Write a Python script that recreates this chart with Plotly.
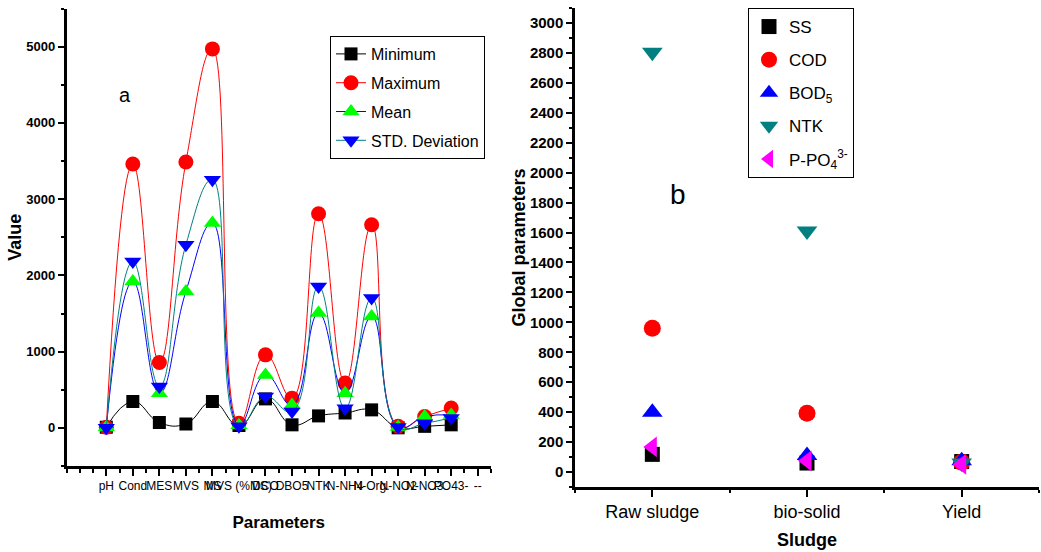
import plotly.graph_objects as go

# ---------------- data: panel a ----------------
param_labels = ["pH", "Cond", "MES", "MVS", "MS", "MVS (%MS)", "DCO", "DBO5",
                "NTK", "N-NH4", "N-Org.", "N-NO2", "N-NO3", "PO43-", "--"]
param_pos = list(range(1, 16))
data_pos = list(range(1, 15))

minimum = [7, 345, 70, 52, 345, 30, 380, 40, 157, 195, 236, 1, 20, 40]
maximum = [8, 3460, 857, 3487, 4970, 60, 958, 390, 2808, 587, 2664, 20, 150, 260]
mean = [7.5, 1920, 455, 1789, 2686, 35, 695, 300, 1505, 455, 1461, 10, 148, 170]
std_dev = [0.5, 2182, 542, 2402, 3255, 20, 411, 214, 1855, 258, 1702, 10, 60, 130]

# ---------------- data: panel b ----------------
sludge = ["Raw sludge", "bio-solid", "Yield"]
sludge_pos = [0, 1, 2]
ss = [118, 60, 70]
cod = [960, 392, 65]
bod5 = [400, 110, 75]
ntk = [2805, 1610, 60]
ppo4 = [168, 75, 52]

REG = "Liberation Sans, Arial, sans-serif"

fig = go.Figure()

# panel a traces
series_a = [
    ("Minimum", minimum, "square", "black", "black", 13),
    ("Maximum", maximum, "circle", "red", "red", 15),
    ("Mean", mean, "triangle-up", "#00ff00", "blue", 15),
    ("STD. Deviation", std_dev, "triangle-down", "blue", "#008080", 15),
]
for name, vals, sym, mcol, lcol, size in series_a:
    fig.add_trace(go.Scatter(
        x=data_pos, y=vals, name=name, mode="lines+markers",
        line=dict(color=lcol, width=1, shape="spline", smoothing=1.3),
        marker=dict(symbol=sym, color=mcol, size=size, line=dict(width=0)),
        xaxis="x", yaxis="y", legend="legend", legendgroup=name,
    ))

# panel b traces
series_b = [
    ("SS", ss, "square", "black", 15),
    ("COD", cod, "circle", "red", 17),
    ("BOD<sub>5</sub>", bod5, "triangle-up", "blue", 18),
    ("NTK", ntk, "triangle-down", "#008080", 18),
    ("P-PO<sub>4</sub><sup>3-</sup>", ppo4, "triangle-left", "#ff00ff", 18),
]
for name, vals, sym, col, size in series_b:
    fig.add_trace(go.Scatter(
        x=sludge_pos, y=vals, name=name, mode="markers",
        marker=dict(symbol=sym, color=col, size=size, line=dict(width=0)),
        xaxis="x2", yaxis="y2", legend="legend2", legendgroup=name,
    ))

dom_xa = [66.5 / 1041, 491 / 1041]
dom_ya = [(552 - 466) / 552, (552 - 8.5) / 552]
dom_xb = [575 / 1041, 1039 / 1041]
dom_yb = [(552 - 487) / 552, (552 - 8) / 552]

common = dict(showgrid=False, zeroline=False, linecolor="black", tickcolor="black",
              automargin=False)

fig.update_layout(
    width=1041, height=552, autosize=False,
    margin=dict(l=0, r=0, t=0, b=0, autoexpand=False),
    paper_bgcolor="white", plot_bgcolor="white",
    font=dict(family=REG, color="black"),
    xaxis=dict(
        domain=dom_xa, anchor="y", range=[-0.5, 15.5],
        tickmode="array", tickvals=param_pos, ticktext=param_labels, tickangle=0,
        ticks="outside", ticklen=7, tickwidth=1.5,
        showline=True, linewidth=2.5,
        tickfont=dict(family=REG, size=12),
        minor=dict(tick0=0, dtick=0.5, ticks="outside", ticklen=4, tickwidth=1.5, tickcolor="black"),
        title=dict(text="Parameters", font=dict(family=REG, size=17, weight="bold"), standoff=24),
        **common),
    yaxis=dict(
        domain=dom_ya, anchor="x", range=[-500, 5500],
        tickmode="array", tickvals=[0, 1000, 2000, 3000, 4000, 5000],
        ticks="outside", ticklen=6, tickwidth=2,
        showline=True, linewidth=2.5,
        tickfont=dict(family=REG, size=13, weight="bold"),
        minor=dict(tick0=0, dtick=500, ticks="outside", ticklen=3, tickwidth=2, tickcolor="black"),
        title=dict(text="Value", font=dict(family=REG, size=18, weight="bold"), standoff=0),
        **common),
    xaxis3=dict(
        overlaying="x", side="top", anchor="y", range=[-0.5, 15.5],
        tickmode="linear", tick0=0, dtick=0.5, ticks="inside", ticklen=5, tickwidth=1,
        showticklabels=False, showline=True, linewidth=1.5, **common),
    yaxis3=dict(
        overlaying="y", side="right", anchor="x", range=[-500, 5500],
        tickmode="linear", tick0=0, dtick=500, ticks="inside", ticklen=5, tickwidth=1,
        showticklabels=False, showline=True, linewidth=1.5, **common),
    xaxis2=dict(
        domain=dom_xb, anchor="y2", range=[-0.5, 2.5],
        tickmode="array", tickvals=sludge_pos, ticktext=sludge, tickangle=0,
        ticks="outside", ticklen=7, tickwidth=2,
        showline=True, linewidth=2.5,
        tickfont=dict(family=REG, size=18),
        minor=dict(tick0=-0.5, dtick=0.5, ticks="outside", ticklen=3, tickwidth=2, tickcolor="black"),
        title=dict(text="Sludge", font=dict(family=REG, size=18, weight="bold"), standoff=13),
        **common),
    yaxis2=dict(
        domain=dom_yb, anchor="x2", range=[-100, 3100],
        tickmode="array", tickvals=list(range(0, 3001, 200)),
        ticks="outside", ticklen=6, tickwidth=2,
        showline=True, linewidth=2.5,
        tickfont=dict(family=REG, size=15, weight="bold"),
        minor=dict(tick0=0, dtick=100, ticks="outside", ticklen=3, tickwidth=2, tickcolor="black"),
        title=dict(text="Global parameters", font=dict(family=REG, size=18, weight="bold"), standoff=0),
        **common),
    xaxis4=dict(
        overlaying="x2", side="top", anchor="y2", range=[-0.5, 2.5],
        tickmode="linear", tick0=-0.5, dtick=0.5, ticks="inside", ticklen=7, tickwidth=1,
        showticklabels=False, showline=True, linewidth=1.5, **common),
    yaxis4=dict(
        overlaying="y2", side="right", anchor="x2", range=[-100, 3100],
        tickmode="linear", tick0=0, dtick=100, ticks="inside", ticklen=5, tickwidth=1,
        showticklabels=False, showline=True, linewidth=1.5, **common),
    legend=dict(
        x=330 / 1041, y=(552 - 36) / 552, xanchor="left", yanchor="top",
        bordercolor="black", borderwidth=1, bgcolor="white",
        font=dict(family=REG, size=16), tracegroupgap=5,
    ),
    legend2=dict(
        x=748 / 1041, y=(552 - 8) / 552, xanchor="left", yanchor="top",
        bordercolor="black", borderwidth=1, bgcolor="white",
        font=dict(family=REG, size=17), tracegroupgap=8,
    ),
    annotations=[
        dict(text="a", x=117 / 1041, y=(552 - 82) / 552, xref="paper", yref="paper",
             showarrow=False, font=dict(family=REG, size=20)),
        dict(text="b", x=678 / 1041, y=(552 - 177) / 552, xref="paper", yref="paper",
             showarrow=False, font=dict(family=REG, size=28)),
    ],
)

fig.write_html("out.html")
